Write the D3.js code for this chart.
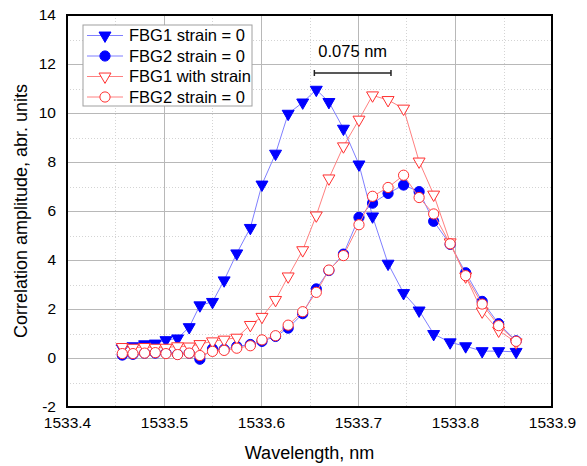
<!DOCTYPE html>
<html>
<head>
<meta charset="utf-8">
<script src="https://cdn.jsdelivr.net/npm/d3@7"></script>
<style>
  body { margin: 0; background: #fff; }
  svg { display: block; font-family: Arial, "Liberation Sans", sans-serif; }
</style>
</head>
<body>
<div id="chart"></div>
<script>
// wavelength grid (nm)
var wavelength = [1533.457, 1533.468, 1533.480, 1533.491, 1533.502, 1533.514, 1533.526, 1533.537,
    1533.550, 1533.562, 1533.575, 1533.589, 1533.601, 1533.615, 1533.628, 1533.643, 1533.657,
    1533.670, 1533.685, 1533.701, 1533.715, 1533.731, 1533.747, 1533.763, 1533.778, 1533.795,
    1533.811, 1533.828, 1533.845, 1533.863];

var fbg1Zero = [0.40, 0.48, 0.56, 0.59, 0.73, 0.80, 1.26, 2.15, 2.29, 3.17, 4.27, 5.31, 7.08, 8.34,
    9.97, 10.43, 10.95, 10.45, 9.36, 7.90, 5.78, 3.85, 2.65, 1.94, 0.98, 0.64, 0.48, 0.28, 0.28, 0.25];
var fbg2Zero = [0.12, 0.15, 0.20, 0.20, 0.20, 0.15, 0.20, -0.05, 0.37, 0.35, 0.47, 0.55, 0.68, 0.88,
    1.22, 1.81, 2.82, 3.57, 4.24, 5.74, 6.32, 6.72, 7.06, 6.79, 5.58, 4.64, 3.48, 2.31, 1.40, 0.70];
var fbg1Strain = [0.45, 0.42, 0.45, 0.42, 0.42, 0.48, 0.47, 0.57, 0.68, 0.75, 0.83, 1.35, 1.68, 2.37,
    3.33, 4.40, 5.82, 7.33, 8.64, 9.73, 10.72, 10.53, 10.18, 8.02, 6.67, 4.72, 3.33, 1.90, 1.12, 0.64];
var fbg2Again = [0.18, 0.18, 0.20, 0.22, 0.18, 0.14, 0.20, 0.10, 0.27, 0.31, 0.40, 0.50, 0.74, 0.91,
    1.34, 1.89, 2.68, 3.59, 4.18, 5.44, 6.60, 6.96, 7.46, 6.55, 5.88, 4.66, 3.36, 2.20, 1.32, 0.68];

var seriesNames = ["FBG1 strain = 0", "FBG2 strain = 0", "FBG1 with strain", "FBG2 strain = 0"];
var xTicks = [1533.4, 1533.5, 1533.6, 1533.7, 1533.8, 1533.9];
var yTicks = [-2, 0, 2, 4, 6, 8, 10, 12, 14];
var shiftLabel = "0.075 nm";
var shiftFrom = 1533.655, shiftTo = 1533.734;

var width = 587, height = 466;
var margin = { top: 15, right: 35, bottom: 59, left: 67 };
var plotW = width - margin.left - margin.right;
var plotH = height - margin.top - margin.bottom;

var svg = d3.select("#chart").append("svg")
    .attr("width", width)
    .attr("height", height);

var x = d3.scaleLinear().domain([1533.4, 1533.9]).range([0, plotW]);
var y = d3.scaleLinear().domain([-2, 14]).range([plotH, 0]);

var g = svg.append("g").attr("transform", "translate(" + margin.left + "," + margin.top + ")");

// minor dotted grid
var xMinor = d3.range(1533.45, 1533.9, 0.1);
var yMinor = d3.range(-1, 14, 2);
g.append("g").selectAll("line").data(xMinor).enter().append("line")
    .attr("x1", function (d) { return Math.round(x(d)) + 0.5; })
    .attr("x2", function (d) { return Math.round(x(d)) + 0.5; })
    .attr("y1", 0).attr("y2", plotH)
    .attr("stroke", "#d4d4d4").attr("stroke-dasharray", "1,2");
g.append("g").selectAll("line").data(yMinor).enter().append("line")
    .attr("y1", function (d) { return Math.round(y(d)) + 0.5; })
    .attr("y2", function (d) { return Math.round(y(d)) + 0.5; })
    .attr("x1", 0).attr("x2", plotW)
    .attr("stroke", "#d4d4d4").attr("stroke-dasharray", "1,2");

// major grid
g.append("g").selectAll("line").data(xTicks.slice(1, -1)).enter().append("line")
    .attr("x1", function (d) { return Math.round(x(d)) + 0.5; })
    .attr("x2", function (d) { return Math.round(x(d)) + 0.5; })
    .attr("y1", 0).attr("y2", plotH)
    .attr("stroke", "#b8b8b8");
g.append("g").selectAll("line").data(yTicks.slice(1, -1)).enter().append("line")
    .attr("y1", function (d) { return Math.round(y(d)) + 0.5; })
    .attr("y2", function (d) { return Math.round(y(d)) + 0.5; })
    .attr("x1", 0).attr("x2", plotW)
    .attr("stroke", "#b8b8b8");

// axes (labels only, Excel style)
var xAxis = g.append("g").attr("transform", "translate(0," + plotH + ")")
    .call(d3.axisBottom(x).tickValues(xTicks).tickSize(0).tickPadding(10)
        .tickFormat(function (d) { return d.toFixed(1); }));
var yAxis = g.append("g")
    .call(d3.axisLeft(y).tickValues(yTicks).tickSize(0).tickPadding(11)
        .tickFormat(function (d) { return String(d); }));
[xAxis, yAxis].forEach(function (a) {
    a.select(".domain").remove();
    a.selectAll("text").attr("font-size", 15.5).attr("fill", "#000")
        .attr("font-family", "Arial, 'Liberation Sans', sans-serif");
});

// series
var series = [
    { vals: fbg1Zero, line: "#7f7fff", shape: "tri", fill: "#0000ff", stroke: "#0000ff" },
    { vals: fbg2Zero, line: "#7f7fff", shape: "circle", fill: "#0000ff", stroke: "#0000ff" },
    { vals: fbg1Strain, line: "#ff8080", shape: "tri", fill: "#fff", stroke: "#ff3030" },
    { vals: fbg2Again, line: "#ff8080", shape: "circle", fill: "#fff", stroke: "#ff3030" }
];

var triSym = d3.symbol().type(d3.symbolTriangle).size(62);
var circSym = d3.symbol().type(d3.symbolCircle).size(82);

function symPath(s) { return s.shape === "tri" ? triSym() : circSym(); }
function symTransform(s, px, py) {
    return "translate(" + px + "," + py + ")" + (s.shape === "tri" ? " rotate(180)" : "");
}

var line = d3.line()
    .x(function (d) { return x(d[0]); })
    .y(function (d) { return y(d[1]); });

series.forEach(function (s) {
    var pts = wavelength.map(function (w, i) { return [w, s.vals[i]]; });
    var sg = g.append("g");
    sg.append("path").datum(pts)
        .attr("d", line)
        .attr("fill", "none")
        .attr("stroke", s.line)
        .attr("stroke-width", 1);
    sg.selectAll("path.m").data(pts).enter().append("path")
        .attr("class", "m")
        .attr("d", symPath(s))
        .attr("transform", function (d) { return symTransform(s, x(d[0]), y(d[1])); })
        .attr("fill", s.fill)
        .attr("stroke", s.stroke)
        .attr("stroke-width", 1);
});

// frame
g.append("rect")
    .attr("x", 0).attr("y", 0).attr("width", plotW).attr("height", plotH)
    .attr("fill", "none").attr("stroke", "#000").attr("stroke-width", 2);

// shift annotation
var barY = 58;
var ann = g.append("g").attr("stroke", "#222").attr("stroke-width", 1.5);
ann.append("line").attr("x1", x(shiftFrom)).attr("x2", x(shiftTo)).attr("y1", barY).attr("y2", barY);
ann.append("line").attr("x1", x(shiftFrom)).attr("x2", x(shiftFrom)).attr("y1", barY - 3).attr("y2", barY + 3);
ann.append("line").attr("x1", x(shiftTo)).attr("x2", x(shiftTo)).attr("y1", barY - 3).attr("y2", barY + 3);
g.append("text")
    .attr("x", (x(shiftFrom) + x(shiftTo)) / 2)
    .attr("y", barY - 16)
    .attr("text-anchor", "middle")
    .attr("font-size", 16.5)
    .text(shiftLabel);

// legend
var lg = svg.append("g").attr("transform", "translate(83,25)");
lg.append("rect").attr("x", 0).attr("y", 0).attr("width", 169).attr("height", 81)
    .attr("fill", "#fff").attr("stroke", "#a0a0a0").attr("stroke-width", 1);
series.forEach(function (s, i) {
    var cy = 10.5 + i * 20.5;
    lg.append("line").attr("x1", 4).attr("x2", 40).attr("y1", cy).attr("y2", cy)
        .attr("stroke", s.line).attr("stroke-width", 1);
    lg.append("path").attr("d", symPath(s))
        .attr("transform", symTransform(s, 22, cy))
        .attr("fill", s.fill).attr("stroke", s.stroke).attr("stroke-width", 1);
    lg.append("text").attr("x", 46).attr("y", cy + 5.5)
        .attr("font-size", 16.5).text(seriesNames[i]);
});

// axis titles
svg.append("text")
    .attr("x", margin.left + plotW / 2)
    .attr("y", 459)
    .attr("text-anchor", "middle")
    .attr("font-size", 18)
    .text("Wavelength, nm");
svg.append("text")
    .attr("transform", "translate(27," + (margin.top + plotH / 2) + ") rotate(-90)")
    .attr("text-anchor", "middle")
    .attr("font-size", 18)
    .text("Correlation amplitude, abr. units");
</script>
</body>
</html>
